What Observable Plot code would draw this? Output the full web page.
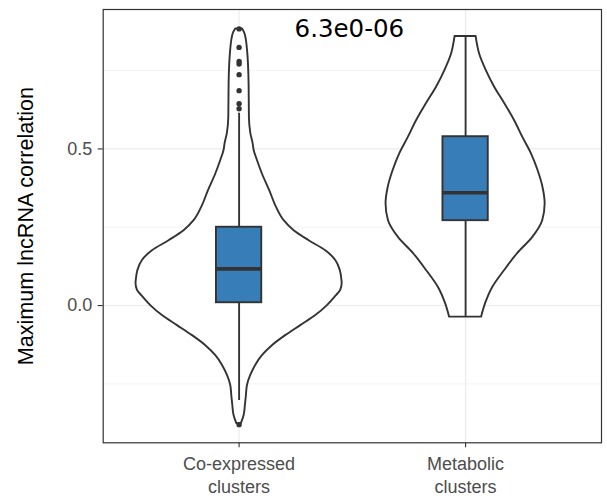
<!DOCTYPE html>
<html>
<head>
<meta charset="utf-8">
<script src="https://cdn.jsdelivr.net/npm/d3@7"></script>
<script src="https://cdn.jsdelivr.net/npm/@observablehq/plot@0.6"></script>
<style>
  html, body { margin: 0; padding: 0; background: #fff; }
</style>
</head>
<body>
<div id="chart"></div>
<script>
// ---- Data ----
const categories = ["Co-expressed\nclusters", "Metabolic\nclusters"];
const yTicks = [0, 0.5];
const yMinorTicks = [-0.25, 0.25, 0.75];
const annotation = "6.3e0-06";
const annotationY = 0.883;

// Violin density profiles: [value, relative density]
const violinCoexpressed = [
  [0.883, 0.033], [0.867, 0.058], [0.814, 0.082], [0.708, 0.097], [0.600, 0.100],
  [0.549, 0.114], [0.517, 0.136], [0.495, 0.146], [0.463, 0.178], [0.420, 0.226],
  [0.367, 0.297], [0.314, 0.362], [0.271, 0.437], [0.239, 0.534], [0.207, 0.680],
  [0.175, 0.841], [0.144, 0.938], [0.112, 0.982], [0.080, 0.998], [0.070, 1.000],
  [0.048, 0.985], [0.032, 0.945], [0.000, 0.857], [-0.032, 0.744], [-0.064, 0.598],
  [-0.096, 0.452], [-0.128, 0.323], [-0.160, 0.226], [-0.191, 0.161], [-0.223, 0.113],
  [-0.255, 0.081], [-0.287, 0.071], [-0.319, 0.061], [-0.351, 0.049], [-0.377, 0.022]
];
const violinMetabolic = [
  [0.859, 0.102], [0.803, 0.136], [0.750, 0.201], [0.697, 0.282], [0.645, 0.379],
  [0.590, 0.476], [0.536, 0.557], [0.485, 0.638], [0.431, 0.703], [0.377, 0.751],
  [0.325, 0.772], [0.271, 0.748], [0.217, 0.650], [0.166, 0.505], [0.112, 0.379],
  [0.057, 0.262], [0.006, 0.194], [-0.037, 0.155]
];

// Box statistics: [lower whisker, q1, median, q3, upper whisker]
const boxCoexpressed = [-0.303, 0.009, 0.117, 0.250, 0.614];
const boxMetabolic = [-0.037, 0.271, 0.360, 0.539, 0.859];

// Outliers
const outliersCoexpressed = [0.883, 0.824, 0.779, 0.771, 0.737, 0.686, 0.644, 0.628, -0.380];
const outliersMetabolic = [];

// ---- Build tables ----
const VW = 0.455;   // half-width of widest violin (x units)
const BW = 0.1;     // half-width of box
const violins = [violinCoexpressed, violinMetabolic];
const boxStats = [boxCoexpressed, boxMetabolic];
const outlierSets = [outliersCoexpressed, outliersMetabolic];

const violinRows = violins.flatMap((prof, i) =>
  prof.map(([v, d]) => ({group: i + 1, v, x1: i + 1 - d * VW, x2: i + 1 + d * VW})));
const boxes = boxStats.map(([lo, q1, med, q3, hi], i) =>
  ({pos: i + 1, lo, q1, med, q3, hi}));
const outlierRows = outlierSets.flatMap((arr, i) => arr.map(v => ({pos: i + 1, v})));

const dark = "#333333";
const grid = "#ebebeb";

const chart = Plot.plot({
  width: 607,
  height: 496,
  marginLeft: 102.7,
  marginRight: 6,
  marginTop: 9,
  marginBottom: 53.7,
  style: {fontFamily: "'Liberation Sans', Arial, sans-serif", background: "#fff"},
  x: {type: "linear", domain: [0.4, 2.6], axis: null},
  y: {domain: [-0.438, 0.945], axis: null},
  marks: [
    Plot.ruleY(yMinorTicks, {stroke: grid, strokeWidth: 0.6}),
    Plot.ruleY(yTicks, {stroke: grid, strokeWidth: 1.1}),
    Plot.ruleX([1, 2], {stroke: grid, strokeWidth: 1.1}),
    Plot.areaX(violinRows, {
      y: "v", x1: "x1", x2: "x2", z: "group",
      fill: "white", stroke: dark, strokeWidth: 1.9, curve: "monotone-y"
    }),
    Plot.ruleX(boxes, {x: "pos", y1: "lo", y2: "q1", stroke: dark, strokeWidth: 1.9}),
    Plot.ruleX(boxes, {x: "pos", y1: "q3", y2: "hi", stroke: dark, strokeWidth: 1.9}),
    Plot.rect(boxes, {
      x1: d => d.pos - BW, x2: d => d.pos + BW, y1: "q1", y2: "q3",
      fill: "#377eb8", stroke: dark, strokeWidth: 1.9
    }),
    Plot.ruleY(boxes, {
      y: "med", x1: d => d.pos - BW, x2: d => d.pos + BW,
      stroke: dark, strokeWidth: 3.6
    }),
    Plot.dot(outlierRows, {x: "pos", y: "v", r: 2.7, fill: dark, stroke: null}),
    Plot.text([annotation], {
      x: 1.5, y: annotationY, text: d => d, dx: -3,
      fontSize: 24.5, fill: "black", fontFamily: "'DejaVu Sans', sans-serif"
    }),
    Plot.axisY({
      ticks: yTicks, tickFormat: d3.format(".1f"), tickSize: 5, tickPadding: 6,
      fontSize: 18, fill: "#4d4d4d", stroke: dark, strokeWidth: 1.1, label: null
    }),
    Plot.axisX({
      ticks: [1, 2], tickFormat: d => categories[d - 1], tickSize: 5, tickPadding: 5.5,
      fontSize: 18, lineHeight: 1.28, fill: "#4d4d4d", stroke: dark, strokeWidth: 1.1, label: null
    }),
    Plot.text(["Maximum lncRNA correlation"], {
      frameAnchor: "left", textAnchor: "middle", rotate: -90, dx: -77.6, text: d => d,
      fontSize: 21.6, fill: "black"
    }),
    Plot.frame({stroke: dark, strokeWidth: 1.2})
  ]
});
document.getElementById("chart").appendChild(chart);
</script>
</body>
</html>
